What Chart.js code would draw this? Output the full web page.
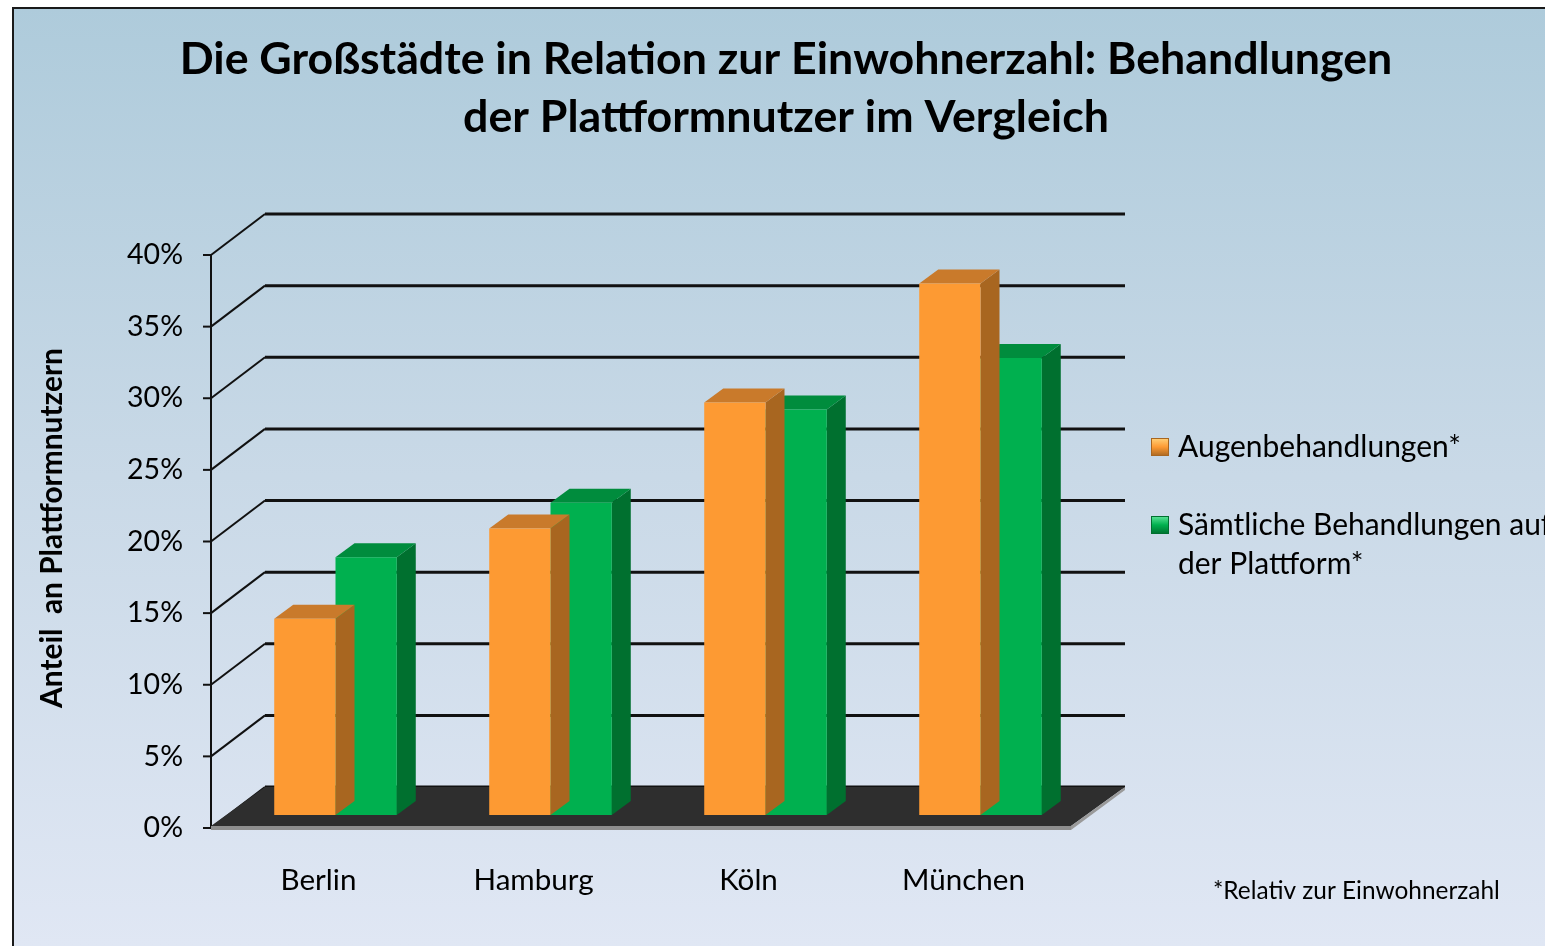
<!DOCTYPE html>
<html><head><meta charset="utf-8">
<script src="https://cdn.jsdelivr.net/npm/chart.js@4.4.1/dist/chart.umd.min.js"></script>
<style>html,body{margin:0;padding:0;background:#fff;overflow:hidden}canvas{display:block}</style>
</head><body><canvas id="c" width="1545" height="946"></canvas>
<script>
const categories = ['Berlin', 'Hamburg', 'Köln', 'München'];
const augenbehandlungen = [13.7, 20.0, 28.8, 37.1];
const saemtlicheBehandlungen = [18.0, 21.8, 28.3, 31.9];
const yTicks = [0, 5, 10, 15, 20, 25, 30, 35, 40];
const seriesNames = ['Augenbehandlungen*', 'Sämtliche Behandlungen auf der Plattform*'];
const legendLines = [['Augenbehandlungen*'], ['Sämtliche Behandlungen auf', 'der Plattform*']];
const titleLines = ['Die Großstädte in Relation zur Einwohnerzahl: Behandlungen', 'der Plattformnutzer im Vergleich'];
const yAxisTitle = 'Anteil  an Plattformnutzern';
const footnote = '*Relativ zur Einwohnerzahl';

const WALL = {dx: 54, dy: 41};
const BAR_OFF = {dx: 17, dy: 13};
const BAR_DEPTH = {dx: 19, dy: 14};
const FACE = [
  {front: '#fd9a33', top: '#c97a2b', side: '#a86620'},
  {front: '#00b04f', top: '#008c3d', side: '#00702f'}
];
const FONT = 'Lato, "Open Sans", sans-serif';

function fitSize(ctx, text, width, weight) {
  ctx.font = weight + ' 100px ' + FONT;
  return 100 * width / ctx.measureText(text).width;
}

function poly(ctx, pts, fill) {
  ctx.beginPath();
  ctx.moveTo(pts[0][0], pts[0][1]);
  for (let i = 1; i < pts.length; i++) ctx.lineTo(pts[i][0], pts[i][1]);
  ctx.closePath();
  ctx.fillStyle = fill;
  ctx.fill();
}

const scenePlugin = {
  id: 'scene',
  beforeDraw(chart) {
    const ctx = chart.ctx;
    const W = chart.width, H = chart.height;
    const ys = chart.scales.y, xs = chart.scales.x;
    const ca = chart.chartArea;
    ctx.save();
    ctx.fillStyle = '#ffffff';
    ctx.fillRect(0, 0, W, H);
    const g = ctx.createLinearGradient(0, 7, 0, H);
    g.addColorStop(0, '#aecbdb');
    g.addColorStop(0.5, '#c9d9e7');
    g.addColorStop(1, '#e0e7f4');
    ctx.fillStyle = g;
    ctx.fillRect(12, 7, W - 12, H - 7);
    ctx.strokeStyle = '#1a1a1a';
    ctx.lineWidth = 2;
    ctx.beginPath();
    ctx.moveTo(13, H); ctx.lineTo(13, 8); ctx.lineTo(W, 8);
    ctx.stroke();

    // title
    ctx.fillStyle = '#000';
    ctx.textAlign = 'center';
    ctx.textBaseline = 'middle';
    const ts = fitSize(ctx, titleLines[0], 1213, 'bold');
    ctx.font = 'bold ' + ts + 'px ' + FONT;
    ctx.fillText(titleLines[0], 786, 60);
    ctx.fillText(titleLines[1], 786, 118);

    // back wall gridlines
    ctx.strokeStyle = '#111';
    yTicks.forEach(v => {
      const yf = ys.getPixelForValue(v);
      ctx.lineWidth = 3;
      ctx.beginPath();
      ctx.moveTo(ca.left + WALL.dx, yf - WALL.dy);
      ctx.lineTo(ca.right + WALL.dx, yf - WALL.dy);
      ctx.stroke();
      ctx.lineWidth = 2;
      ctx.beginPath();
      ctx.moveTo(ca.left, yf);
      ctx.lineTo(ca.left + WALL.dx, yf - WALL.dy);
      ctx.stroke();
      ctx.beginPath();
      ctx.moveTo(ca.left - 8, yf);
      ctx.lineTo(ca.left, yf);
      ctx.stroke();
    });
    ctx.lineWidth = 2;
    ctx.beginPath();
    ctx.moveTo(ca.left, ys.getPixelForValue(yTicks[yTicks.length - 1]));
    ctx.lineTo(ca.left, ys.getPixelForValue(0));
    ctx.stroke();

    // floor
    const y0 = ys.getPixelForValue(0);
    poly(ctx, [[ca.left, y0 - 2], [ca.right, y0 - 2], [ca.right + WALL.dx, y0 - WALL.dy], [ca.left + WALL.dx, y0 - WALL.dy]], '#2e2e2e');
    poly(ctx, [[ca.left, y0 - 2], [ca.right, y0 - 2], [ca.right, y0 + 2], [ca.left, y0 + 2]], '#8e8e8e');
    poly(ctx, [[ca.right, y0 - 2], [ca.right + WALL.dx, y0 - WALL.dy], [ca.right + WALL.dx, y0 - WALL.dy + 3], [ca.right, y0 + 2]], '#9a9a9a');

    // y tick labels
    ctx.fillStyle = '#000';
    ctx.textAlign = 'right';
    const tks = fitSize(ctx, '40%', 56, 'normal');
    ctx.font = 'normal ' + tks + 'px ' + FONT;
    yTicks.forEach(v => ctx.fillText(v + '%', 183, ys.getPixelForValue(v)));

    // x labels
    ctx.textAlign = 'center';
    const xls = fitSize(ctx, 'München', 123, 'normal');
    ctx.font = 'normal ' + xls + 'px ' + FONT;
    categories.forEach((c, i) => ctx.fillText(c, xs.getPixelForValue(i), 880));

    // y axis title
    ctx.save();
    ctx.translate(52, 528);
    ctx.rotate(-Math.PI / 2);
    const yts = fitSize(ctx, yAxisTitle, 360, 'bold');
    ctx.font = 'bold ' + yts + 'px ' + FONT;
    ctx.fillText(yAxisTitle, 0, 0);
    ctx.restore();
    ctx.restore();
  },
  beforeDatasetDraw(chart, args) {
    const ctx = chart.ctx;
    ctx.save();
    ctx.translate(BAR_OFF.dx, -BAR_OFF.dy);
    const meta = chart.getDatasetMeta(args.index);
    const f = FACE[args.index];
    meta.data.forEach(bar => {
      const p = bar.getProps(['x', 'y', 'base', 'width'], true);
      const l = p.x - p.width / 2, r = p.x + p.width / 2;
      poly(ctx, [[r, p.y], [r + BAR_DEPTH.dx, p.y - BAR_DEPTH.dy], [r + BAR_DEPTH.dx, p.base - BAR_DEPTH.dy], [r, p.base]], f.side);
      poly(ctx, [[l, p.y], [r, p.y], [r + BAR_DEPTH.dx, p.y - BAR_DEPTH.dy], [l + BAR_DEPTH.dx, p.y - BAR_DEPTH.dy]], f.top);
    });
  },
  afterDatasetDraw(chart) {
    chart.ctx.restore();
  },
  afterDraw(chart) {
    const ctx = chart.ctx;
    ctx.save();
    ctx.textAlign = 'left';
    ctx.textBaseline = 'middle';
    const ls = fitSize(ctx, legendLines[0][0], 283, 'normal');
    ctx.font = 'normal ' + ls + 'px ' + FONT;
    const rows = [[447], [525, 564]];
    legendLines.forEach((lines, i) => {
      const yy = rows[i][0];
      const gr = ctx.createLinearGradient(0, yy - 9, 0, yy + 9);
      gr.addColorStop(0, i === 0 ? '#ffd27a' : '#5fe59a');
      gr.addColorStop(0.5, FACE[i].front);
      gr.addColorStop(1, FACE[i].side);
      ctx.fillStyle = gr;
      ctx.fillRect(1151, yy - 9, 18, 18);
      ctx.strokeStyle = FACE[i].side;
      ctx.lineWidth = 1;
      ctx.strokeRect(1151.5, yy - 8.5, 17, 17);
      ctx.fillStyle = '#000';
      lines.forEach((t, k) => ctx.fillText(t, 1178, rows[i][k]));
    });
    const fs = fitSize(ctx, footnote, 287, 'normal');
    ctx.font = 'normal ' + fs + 'px ' + FONT;
    ctx.fillText(footnote, 1213, 891);
    ctx.restore();
  }
};

new Chart(document.getElementById('c'), {
  type: 'bar',
  data: {
    labels: categories,
    datasets: [
      {label: seriesNames[0], data: augenbehandlungen, backgroundColor: FACE[0].front, borderWidth: 0, clip: false},
      {label: seriesNames[1], data: saemtlicheBehandlungen, backgroundColor: FACE[1].front, borderWidth: 0, clip: false}
    ]
  },
  options: {
    responsive: false,
    animation: false,
    devicePixelRatio: 1,
    categoryPercentage: 0.57,
    barPercentage: 1.0,
    layout: {padding: {left: 211, right: 474, top: 255, bottom: 118}},
    scales: {
      x: {display: false},
      y: {display: false, min: 0, max: 40}
    },
    plugins: {legend: {display: false}, tooltip: {enabled: false}, title: {display: false}}
  },
  plugins: [scenePlugin]
});
</script></body></html>
